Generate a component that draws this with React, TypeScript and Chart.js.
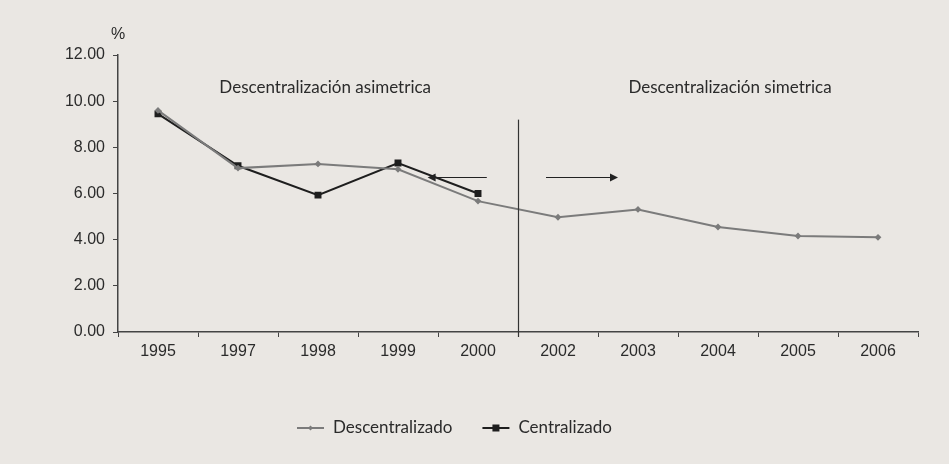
import React, { useEffect, useRef } from "react";
import { Chart, registerables } from "chart.js";

Chart.register(...registerables);

const categories = ["1995", "1997", "1998", "1999", "2000", "2002", "2003", "2004", "2005", "2006"];
const descentralizado = [9.6, 7.1, 7.28, 7.05, 5.67, 4.97, 5.31, 4.55, 4.16, 4.1];
const centralizado = [9.45, 7.2, 5.93, 7.32, 6.0, null, null, null, null, null];
const yTicks = [0, 2, 4, 6, 8, 10, 12];
const regionLabels = ["Descentralización asimetrica", "Descentralización simetrica"];
const regionLabelPos = [2.09, 7.15]; // category index centers
const arrowLeft = { from: 4.11, to: 3.37, y: 6.7 };
const arrowRight = { from: 4.85, to: 5.75, y: 6.7 };
const dividerAt = 4.5;
const dividerTop = 9.2;

const BG = "#EAE7E3";
const TEXT = "#2b2b2b";
const ANNOT_FONT = "17px Lato, 'Open Sans', sans-serif";
const TICK_FONT = { family: "'Liberation Sans', Arial, sans-serif", size: 16 };

const annotPlugin = {
  id: "annot",
  beforeDraw(chart: any) {
    const { ctx, width, height } = chart;
    ctx.save();
    ctx.fillStyle = BG;
    ctx.fillRect(0, 0, width, height);
    ctx.restore();
  },
  afterDatasetsDraw(chart: any) {
    const { ctx, scales } = chart;
    const x = scales.x;
    const y = scales.y;
    ctx.save();
    // divider
    const dx = Math.round(x.getPixelForValue(dividerAt)) + 0.5;
    ctx.strokeStyle = "#333";
    ctx.lineWidth = 1.2;
    ctx.beginPath();
    ctx.moveTo(dx, y.getPixelForValue(dividerTop));
    ctx.lineTo(dx, y.getPixelForValue(0) + 5);
    ctx.stroke();
    // arrows
    const drawArrow = (a: any) => {
      const x1 = x.getPixelForValue(a.from);
      const x2 = x.getPixelForValue(a.to);
      const py = Math.round(y.getPixelForValue(a.y)) + 0.5;
      const dir = Math.sign(x2 - x1);
      ctx.strokeStyle = "#222";
      ctx.fillStyle = "#222";
      ctx.lineWidth = 1.2;
      ctx.beginPath();
      ctx.moveTo(x1, py);
      ctx.lineTo(x2 - dir * 6, py);
      ctx.stroke();
      ctx.beginPath();
      ctx.moveTo(x2, py);
      ctx.lineTo(x2 - dir * 8, py - 4);
      ctx.lineTo(x2 - dir * 8, py + 4);
      ctx.closePath();
      ctx.fill();
    };
    drawArrow(arrowLeft);
    drawArrow(arrowRight);
    // region labels
    ctx.fillStyle = TEXT;
    ctx.font = ANNOT_FONT;
    ctx.textAlign = "center";
    ctx.textBaseline = "middle";
    regionLabels.forEach((t, i) => {
      ctx.fillText(t, x.getPixelForValue(regionLabelPos[i]), 88);
    });
    // % unit
    ctx.font = "16px 'Liberation Sans', Arial, sans-serif";
    ctx.fillText("%", y.right, 35);
    // legend
    const ly = 428;
    const items = chart.data.datasets;
    ctx.font = ANNOT_FONT;
    ctx.textAlign = "left";
    const lineW = 27;
    const gap = 9;
    const itemGap = 30;
    let lx = 297;
    items.forEach((d: any) => {
      ctx.strokeStyle = d.borderColor;
      ctx.lineWidth = d.borderWidth;
      ctx.beginPath();
      ctx.moveTo(lx, ly);
      ctx.lineTo(lx + lineW, ly);
      ctx.stroke();
      ctx.fillStyle = d.pointBackgroundColor;
      const r = d.pointRadius;
      const cx = lx + lineW / 2;
      if (d.pointStyle === "rect") {
        ctx.fillRect(cx - r, ly - r, 2 * r, 2 * r);
      } else {
        ctx.beginPath();
        ctx.moveTo(cx, ly - r - 0.5);
        ctx.lineTo(cx + r + 0.5, ly);
        ctx.lineTo(cx, ly + r + 0.5);
        ctx.lineTo(cx - r - 0.5, ly);
        ctx.closePath();
        ctx.fill();
      }
      ctx.fillStyle = TEXT;
      ctx.fillText(d.label, lx + lineW + gap, ly);
      lx += lineW + gap + ctx.measureText(d.label).width + itemGap;
    });
    ctx.restore();
  },
};

export default function App() {
  const ref = useRef<HTMLCanvasElement | null>(null);
  useEffect(() => {
    document.body.style.margin = "0";
    const chart = new Chart(ref.current!, {
      type: "line",
      data: {
        labels: categories,
        datasets: [
          {
            label: "Descentralizado",
            data: descentralizado,
            borderColor: "#7b7b7b",
            backgroundColor: "#7b7b7b",
            pointBackgroundColor: "#7b7b7b",
            pointBorderColor: "#7b7b7b",
            borderWidth: 2,
            pointStyle: "rectRot",
            pointRadius: 2,
            tension: 0,
          },
          {
            label: "Centralizado",
            data: centralizado,
            borderColor: "#1e1e1e",
            backgroundColor: "#1e1e1e",
            pointBackgroundColor: "#1e1e1e",
            pointBorderColor: "#1e1e1e",
            borderWidth: 2,
            pointStyle: "rect",
            pointRadius: 3.5,
            tension: 0,
            spanGaps: false,
          },
        ],
      },
      options: {
        animation: false,
        responsive: false,
        maintainAspectRatio: false,
        layout: { padding: { left: 0, right: 31, top: 55, bottom: 92 } },
        plugins: { legend: { display: false }, tooltip: { enabled: false } },
        scales: {
          x: {
            type: "category",
            offset: true,
            grid: { offset: true, drawOnChartArea: false, drawTicks: true, tickLength: 5, color: "#444" },
            border: { display: true, color: "#444", width: 1.5 },
            ticks: { color: TEXT, font: TICK_FONT, padding: 5, maxRotation: 0, autoSkip: false },
            afterFit: (s: any) => { s.height = 40; },
          },
          y: {
            min: 0,
            max: 12,
            afterBuildTicks: (s: any) => { s.ticks = yTicks.map((v) => ({ value: v })); },
            grid: { drawOnChartArea: false, drawTicks: true, tickLength: 5, color: "#444" },
            border: { display: true, color: "#444", width: 1.5 },
            ticks: {
              color: TEXT,
              font: TICK_FONT,
              padding: 8,
              callback: (v: any) => Number(v).toFixed(2),
            },
            afterFit: (s: any) => { s.width = 118; },
          },
        },
      },
      plugins: [annotPlugin],
    });
    return () => chart.destroy();
  }, []);
  return (
    <div style={{ position: "absolute", left: 0, top: 0, width: 949, height: 464, background: BG }}>
      <canvas ref={ref} width={949} height={464} style={{ width: 949, height: 464, display: "block" }} />
    </div>
  );
}
